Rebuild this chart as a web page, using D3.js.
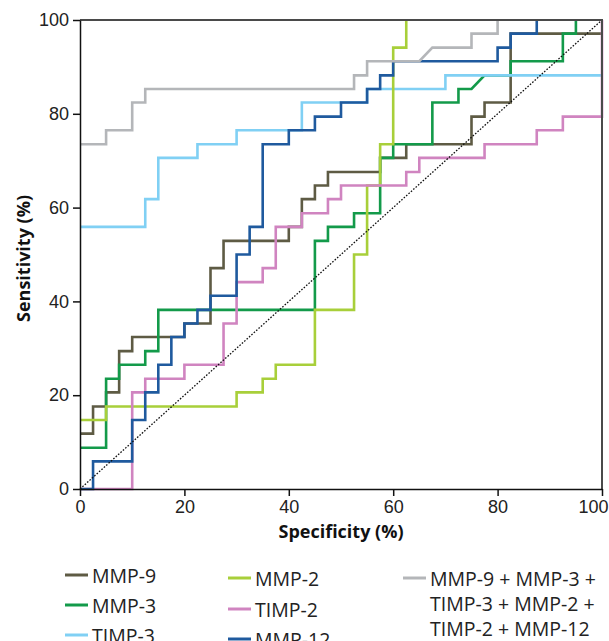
<!DOCTYPE html>
<html>
<head>
<meta charset="utf-8">
<script src="https://cdn.jsdelivr.net/npm/d3@7"></script>
<style>
  body { margin: 0; background: #fff; }
  svg { display: block; font-family: "Open Sans", "Noto Sans", sans-serif; }
  .axis text { font-size: 18px; fill: #222; }
  .axis path, .axis line { stroke: #111; stroke-width: 1.5; }
  .title { font-size: 18px; font-weight: 700; fill: #111; }
  .legend text { font-size: 19.5px; fill: #222; }
</style>
</head>
<body>
<div id="chart"></div>
<script>
// ROC step vertices: [specificity %, sensitivity %]
const mmp9 = [[0,11.8],[2.5,11.8],[2.5,17.6],[5,17.6],[5,20.6],[7.5,20.6],[7.5,29.4],[10,29.4],[10,32.4],[20,32.4],[20,35.3],[25,35.3],[25,47.1],[27.5,47.1],[27.5,52.9],[40,52.9],[40,55.9],[42.5,55.9],[42.5,61.8],[45,61.8],[45,64.7],[47.5,64.7],[47.5,67.6],[57.5,67.6],[57.5,70.6],[62.5,70.6],[62.5,73.5],[75,73.5],[75,79.4],[77.5,79.4],[77.5,82.4],[82.5,82.4],[82.5,97.1],[100,97.1]];
const mmp3 = [[0,8.8],[5,8.8],[5,23.5],[7.5,23.5],[7.5,26.5],[12.5,26.5],[12.5,29.4],[15,29.4],[15,38.2],[45,38.2],[45,52.9],[47.5,52.9],[47.5,55.9],[52.5,55.9],[52.5,58.8],[57.5,58.8],[57.5,70.6],[60,70.6],[60,73.5],[67.5,73.5],[67.5,82.4],[72.5,82.4],[72.5,85.3],[75,85.3],[77.5,88.2],[82.5,88.2],[82.5,91.2],[92.5,91.2],[92.5,97.1],[95,97.1],[95,100]];
const timp3 = [[0,55.9],[12.5,55.9],[12.5,61.8],[15,61.8],[15,70.6],[22.5,70.6],[22.5,73.5],[30,73.5],[30,76.5],[42.5,76.5],[42.5,82.4],[55,82.4],[55,85.3],[70,85.3],[70,88.2],[100,88.2]];
const mmp2 = [[0,14.7],[5,14.7],[5,17.6],[30,17.6],[30,20.6],[35,20.6],[35,23.5],[37.5,23.5],[37.5,26.5],[45,26.5],[45,38.2],[52.5,38.2],[52.5,50],[55,50],[55,64.7],[57.5,64.7],[57.5,73.5],[60,73.5],[60,94.1],[62.5,94.1],[62.5,100]];
const timp2 = [[0,0],[10,0],[10,20.6],[12.5,20.6],[12.5,23.5],[20,23.5],[20,26.5],[27.5,26.5],[27.5,35.3],[30,35.3],[30,44.1],[35,44.1],[35,47.1],[37.5,47.1],[37.5,55.9],[42.5,55.9],[42.5,58.8],[47.5,58.8],[47.5,61.8],[50,61.8],[50,64.7],[62.5,64.7],[62.5,67.6],[65,67.6],[65,70.6],[77.5,70.6],[77.5,73.5],[87.5,73.5],[87.5,76.5],[92.5,76.5],[92.5,79.4],[100,79.4],[100,100]];
const mmp12 = [[0,0],[2.5,0],[2.5,5.9],[10,5.9],[10,14.7],[12.5,14.7],[12.5,20.6],[15,20.6],[15,26.5],[17.5,26.5],[17.5,32.4],[20,32.4],[20,35.3],[22.5,35.3],[22.5,38.2],[25,38.2],[25,41.2],[30,41.2],[30,50],[32.5,50],[32.5,55.9],[35,55.9],[35,73.5],[40,73.5],[40,76.5],[45,76.5],[45,79.4],[50,79.4],[50,82.4],[55,82.4],[55,85.3],[57.5,85.3],[57.5,88.2],[60,88.2],[60,91.2],[80,91.2],[80,94.1],[82.5,94.1],[82.5,97.1],[87.5,97.1],[87.5,100]];
const combo = [[0,73.5],[5,73.5],[5,76.5],[10,76.5],[10,82.4],[12.5,82.4],[12.5,85.3],[52.5,85.3],[52.5,88.2],[55,88.2],[55,91.2],[65,91.2],[67.5,94.1],[75,94.1],[75,97.1],[80,97.1],[80,100]];

const names = ["MMP-9", "MMP-3", "TIMP-3", "MMP-2", "TIMP-2", "MMP-12", "MMP-9 + MMP-3 + TIMP-3 + MMP-2 + TIMP-2 + MMP-12"];
const colors = ["#5e5b44", "#139a4a", "#80d0f4", "#a8cf3a", "#d084c0", "#1f5a9e", "#b4b6b9"];
const seriesData = [mmp9, mmp3, timp3, mmp2, timp2, mmp12, combo];
const ticks = [0, 20, 40, 60, 80, 100];

const W = 609, H = 641;
const x = d3.scaleLinear().domain([0, 100]).range([80, 602]);
const y = d3.scaleLinear().domain([0, 100]).range([489, 20]);

const svg = d3.select("#chart").append("svg")
  .attr("width", W).attr("height", H);

const line = d3.line().x(d => x(d[0])).y(d => y(d[1]));

// ROC curves
svg.append("g").selectAll("path")
  .data(seriesData)
  .enter().append("path")
  .attr("d", line)
  .attr("fill", "none")
  .attr("stroke", (d, i) => colors[i])
  .attr("stroke-width", 2.6)
  .attr("stroke-linejoin", "miter");

// chance line
svg.append("path")
  .attr("d", line([[0, 0], [100, 100]]))
  .attr("stroke", "#111")
  .attr("stroke-width", 1.3)
  .attr("stroke-dasharray", "1.6,1.6")
  .attr("fill", "none");

// frame top/right
svg.append("path")
  .attr("d", `M${x(0)},${y(100)}H${x(100)}V${y(0)}`)
  .attr("fill", "none")
  .attr("stroke", "#4a4a4a")
  .attr("stroke-width", 2);

// axes
const xAxis = svg.append("g")
  .attr("class", "axis")
  .attr("transform", `translate(0,${y(0)})`)
  .call(d3.axisBottom(x).tickValues(ticks).tickSize(7).tickSizeOuter(0).tickPadding(4));

// keep the last label inside the page
xAxis.selectAll(".tick text")
  .filter(d => d === 100)
  .attr("text-anchor", "end")
  .attr("dx", 6);

svg.append("g")
  .attr("class", "axis")
  .attr("transform", `translate(${x(0)},0)`)
  .call(d3.axisLeft(y).tickValues(ticks).tickSize(7).tickSizeOuter(0).tickPadding(4));

svg.selectAll(".axis text").attr("font-family", null);

// axis titles
svg.append("text")
  .attr("class", "title")
  .attr("x", (x(0) + x(100)) / 2)
  .attr("y", 538)
  .attr("text-anchor", "middle")
  .text("Specificity (%)");

svg.append("text")
  .attr("class", "title")
  .attr("transform", `translate(30,${(y(0) + y(100)) / 2 + 4}) rotate(-90)`)
  .attr("text-anchor", "middle")
  .text("Sensitivity (%)");

// legend
const legendPos = [
  { x: 65, y: 575 }, { x: 65, y: 605 }, { x: 65, y: 635 },
  { x: 228, y: 578 }, { x: 228, y: 609 }, { x: 228, y: 639 },
  { x: 403, y: 578 }
];
const legend = svg.append("g").attr("class", "legend")
  .selectAll("g")
  .data(names)
  .enter().append("g")
  .attr("transform", (d, i) => `translate(${legendPos[i].x},${legendPos[i].y})`);

legend.append("line")
  .attr("x1", 0).attr("x2", 23)
  .attr("stroke", (d, i) => colors[i])
  .attr("stroke-width", 3);

legend.append("text")
  .attr("x", 27)
  .attr("y", 8)
  .each(function(d, i) {
    const t = d3.select(this);
    if (i < 6) { t.text(d); return; }
    ["MMP-9 + MMP-3 +", "TIMP-3 + MMP-2 +", "TIMP-2 + MMP-12"].forEach((s, j) => {
      t.append("tspan").attr("x", 27).attr("dy", j ? 25 : 0).text(s);
    });
  });
</script>
</body>
</html>
